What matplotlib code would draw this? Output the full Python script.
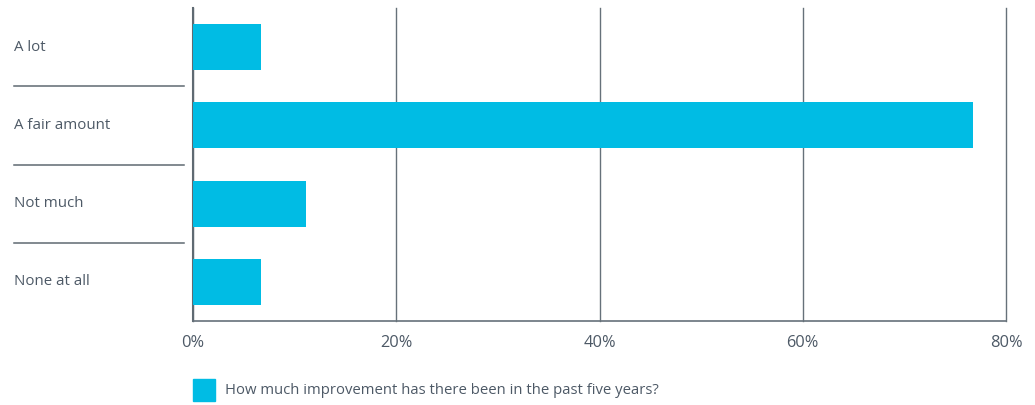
import numpy as np
import matplotlib.pyplot as plt
from matplotlib.patches import Rectangle
from matplotlib.lines import Line2D

categories = ['A lot', 'A fair amount', 'Not much', 'None at all']
values = [6.7, 76.8, 11.1, 6.7]
xticks = [0, 20, 40, 60, 80]
legend_label = 'How much improvement has there been in the past five years?'

bar_color = '#00bce4'
text_color = '#4d5966'
grid_color = '#66717a'

plt.rcParams['font.family'] = ['Open Sans', 'DejaVu Sans']

fig = plt.figure(figsize=(10.35, 4.05), dpi=100)
ax = fig.add_axes([193 / 1035, 1 - 321 / 405, (1006 - 193) / 1035, (321 - 8) / 405])

y = np.arange(len(categories))
ax.barh(y, values, height=0.59, color=bar_color, zorder=3)
ax.set_ylim(len(categories) - 0.5, -0.5)
ax.set_xlim(0, 80)

ax.set_xticks(xticks)
ax.set_xticklabels([f'{t}%' for t in xticks], color=text_color, fontsize=11.8)
ax.tick_params(axis='x', length=0, pad=10)
ax.set_yticks([])
ax.grid(axis='x', color=grid_color, linewidth=1.0, zorder=1)
for gl in ax.get_xgridlines():
    gl.set_clip_on(False)
for s in ['top', 'right']:
    ax.spines[s].set_visible(False)
ax.spines['left'].set_color('#5f6a72')
ax.spines['left'].set_linewidth(1.5)
ax.spines['bottom'].set_color(grid_color)
ax.spines['bottom'].set_linewidth(1.2)

# category labels and separator lines on the left
inv = fig.transFigure.inverted()
for i, c in enumerate(categories):
    yf = inv.transform(ax.transData.transform((0, i)))[1]
    fig.text(14 / 1035, yf, c, color=text_color, fontsize=10.8, ha='left', va='center')
for i in range(len(categories) - 1):
    yf = inv.transform(ax.transData.transform((0, i + 0.5)))[1]
    fig.add_artist(Line2D([14 / 1035, 184 / 1035], [yf, yf], color='#5f6a72', linewidth=1.1,
                          transform=fig.transFigure))

# legend
fig.add_artist(Rectangle((193 / 1035, 1 - 401 / 405), 22 / 1035, 22 / 405,
                         color=bar_color, transform=fig.transFigure))
fig.text(225 / 1035, 1 - 390 / 405, legend_label, color=text_color, fontsize=10.75,
         ha='left', va='center')

plt.savefig('out.png', dpi=100, facecolor='white')
